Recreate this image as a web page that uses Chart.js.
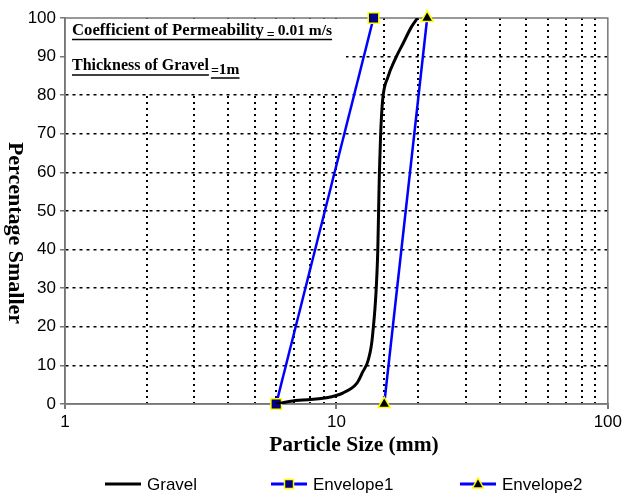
<!DOCTYPE html>
<html>
<head>
<meta charset="utf-8">
<script src="https://cdn.jsdelivr.net/npm/chart.js@4.4.0/dist/chart.umd.min.js"></script>
<style>
  html, body { margin: 0; padding: 0; background: #fff; }
  canvas { display: block; }
</style>
</head>
<body>
<canvas id="gradingChart" width="625" height="493"></canvas>
<script>
// Values (size in mm, percent smaller)
const gravelSize    = [6, 6.9, 9.2, 10.6, 11.9, 12.5, 13.1, 13.6, 14.2, 14.3, 14.4, 14.55, 14.8, 15.5, 16.4, 17.6, 18.9, 19.9];
const gravelPercent = [0, 0.8, 1.6, 2.9, 5.4, 8.3, 11.4, 18, 39.4, 49.7, 59.8, 69.7, 78.7, 84.8, 89.1, 93.4, 97.7, 100];
const envelope1Size    = [6, 13.7];
const envelope1Percent = [0, 100];
const envelope2Size    = [15, 21.6];
const envelope2Percent = [0, 100];

const seriesNames = ['Gravel', 'Envelope1', 'Envelope2'];
const xTickLabels = [1, 10, 100];
const xAxisTitle = 'Particle Size (mm)';
const yAxisTitle = 'Percentage Smaller';

// Note box text (main part, "=" part, value part)
const note1 = ['Coefficient of Permeability', '=', '0.01 m/s'];
const note2 = ['Thickness of Gravel', '=', '1m'];

function toPoints(xs, ys) {
    return xs.map((x, i) => ({ x: x, y: ys[i] }));
}

const serif = '"Liberation Serif", "Times New Roman", serif';
const sans = '"Liberation Sans", Arial, sans-serif';

// Draws the note box, frame, axis titles and legend
const decorPlugin = {
    id: 'decor',
    beforeDatasetsDraw(chart) {
        const ctx = chart.ctx;
        const a = chart.chartArea;
        ctx.save();
        // white note box over the upper-left grid
        ctx.fillStyle = '#fff';
        ctx.fillRect(a.left + 1, a.top + 1, 345 - a.left, 93 - a.top);

        ctx.fillStyle = '#000';
        ctx.strokeStyle = '#000';
        ctx.lineWidth = 1.5;
        ctx.textBaseline = 'alphabetic';
        ctx.textAlign = 'left';

        // line 1
        let x = 72;
        ctx.font = 'bold 16.7px ' + serif;
        ctx.fillText(note1[0], x, 35);
        x += ctx.measureText(note1[0]).width + 3;
        ctx.font = 'bold 14px ' + serif;
        ctx.fillText(note1[1], x, 39);
        x += ctx.measureText(note1[1]).width + 3;
        ctx.font = 'bold 15.5px ' + serif;
        ctx.fillText(note1[2], x, 35);
        x += ctx.measureText(note1[2]).width;
        ctx.beginPath();
        ctx.moveTo(72, 39.5);
        ctx.lineTo(x, 39.5);
        ctx.stroke();

        // line 2
        x = 72;
        ctx.font = 'bold 16px ' + serif;
        ctx.fillText(note2[0], x, 70);
        const w2 = ctx.measureText(note2[0]).width;
        ctx.beginPath();
        ctx.moveTo(72, 75);
        ctx.lineTo(72 + w2, 75);
        ctx.stroke();
        x += w2 + 2;
        const x2 = x;
        ctx.font = 'bold 14px ' + serif;
        ctx.fillText(note2[1], x, 75);
        x += ctx.measureText(note2[1]).width;
        ctx.font = 'bold 15.5px ' + serif;
        ctx.fillText(note2[2], x, 74);
        x += ctx.measureText(note2[2]).width;
        ctx.beginPath();
        ctx.moveTo(x2, 78);
        ctx.lineTo(x, 78);
        ctx.stroke();

        // plot frame
        ctx.strokeStyle = '#777';
        ctx.lineWidth = 1.5;
        ctx.strokeRect(a.left, a.top, a.right - a.left, a.bottom - a.top);
        ctx.restore();
    },
    afterDraw(chart) {
        const ctx = chart.ctx;
        ctx.save();
        ctx.fillStyle = '#000';
        ctx.font = 'bold 21.5px ' + serif;
        ctx.textAlign = 'center';
        ctx.textBaseline = 'middle';
        ctx.fillText(xAxisTitle, 354, 445);

        ctx.save();
        ctx.translate(15, 233);
        ctx.rotate(Math.PI / 2);
        ctx.font = 'bold 22px ' + serif;
        ctx.fillText(yAxisTitle, 0, 0);
        ctx.restore();

        // legend: line with marker, then the name
        const starts = [105, 271, 460];
        const ly = 484;
        ctx.font = '17px ' + sans;
        ctx.textAlign = 'left';
        chart.data.datasets.forEach((ds, i) => {
            const x0 = starts[i];
            ctx.strokeStyle = ds.borderColor;
            ctx.lineWidth = 3;
            ctx.beginPath();
            ctx.moveTo(x0, ly);
            ctx.lineTo(x0 + 36, ly);
            ctx.stroke();
            const cx = x0 + 18;
            if (ds.pointStyle === 'rect') {
                ctx.fillStyle = ds.pointBackgroundColor;
                ctx.strokeStyle = ds.pointBorderColor;
                ctx.lineWidth = 1.5;
                ctx.fillRect(cx - 4.5, ly - 4.5, 9, 9);
                ctx.strokeRect(cx - 4.5, ly - 4.5, 9, 9);
            } else if (ds.pointStyle === 'triangle') {
                ctx.fillStyle = ds.pointBackgroundColor;
                ctx.strokeStyle = ds.pointBorderColor;
                ctx.lineWidth = 1.5;
                ctx.beginPath();
                ctx.moveTo(cx, ly - 6);
                ctx.lineTo(cx + 5.5, ly + 4);
                ctx.lineTo(cx - 5.5, ly + 4);
                ctx.closePath();
                ctx.fill();
                ctx.stroke();
            }
            ctx.fillStyle = '#000';
            ctx.fillText(ds.label, x0 + 42, ly + 1);
        });
        ctx.restore();
    }
};

const ctx = document.getElementById('gradingChart').getContext('2d');
const gradingChart = new Chart(ctx, {
    type: 'line',
    data: {
        datasets: [
            {
                label: seriesNames[0],
                data: toPoints(gravelSize, gravelPercent),
                borderColor: '#000',
                borderWidth: 3,
                pointRadius: 0,
                cubicInterpolationMode: 'monotone',
                fill: false
            },
            {
                label: seriesNames[1],
                data: toPoints(envelope1Size, envelope1Percent),
                borderColor: '#0000ff',
                borderWidth: 2.5,
                pointStyle: 'rect',
                pointRadius: 7.5,
                pointBackgroundColor: '#000080',
                pointBorderColor: '#ffff00',
                pointBorderWidth: 1.5,
                clip: false,
                fill: false
            },
            {
                label: seriesNames[2],
                data: toPoints(envelope2Size, envelope2Percent),
                borderColor: '#0000ff',
                borderWidth: 2.5,
                pointStyle: 'triangle',
                pointRadius: 7,
                pointBackgroundColor: '#000',
                pointBorderColor: '#ffff00',
                pointBorderWidth: 1.5,
                clip: false,
                fill: false
            }
        ]
    },
    options: {
        responsive: false,
        animation: false,
        layout: { padding: { left: 0, right: 17, top: 18, bottom: 0 } },
        plugins: {
            legend: { display: false },
            tooltip: { enabled: false }
        },
        scales: {
            x: {
                type: 'logarithmic',
                min: 1,
                max: 100,
                afterFit: (scale) => { scale.height = 89; },
                grid: {
                    color: (c) => (c.tick && (c.tick.value === 1 || c.tick.value === 100)) ? 'rgba(0,0,0,0)' : '#000',
                    lineWidth: 2,
                    tickLength: 5,
                    tickColor: (c) => (c.tick && xTickLabels.includes(c.tick.value)) ? '#777' : 'rgba(0,0,0,0)'
                },
                border: { display: true, color: '#777', width: 1.5, dash: [2, 4] },
                ticks: {
                    autoSkip: false,
                    maxRotation: 0,
                    padding: 3,
                    color: '#000',
                    font: { family: sans, size: 17 },
                    callback: (v) => xTickLabels.includes(v) ? String(v) : ''
                },
                title: { display: false }
            },
            y: {
                min: 0,
                max: 100,
                afterFit: (scale) => { scale.width = 65; },
                grid: {
                    color: (c) => (c.tick && (c.tick.value === 0 || c.tick.value === 100)) ? 'rgba(0,0,0,0)' : '#000',
                    lineWidth: 1.5,
                    tickLength: 5,
                    tickColor: '#777'
                },
                border: { display: true, color: '#777', width: 1.5, dash: [3, 4] },
                ticks: {
                    stepSize: 10,
                    padding: 4,
                    color: '#000',
                    font: { family: sans, size: 17 }
                },
                title: { display: false }
            }
        }
    },
    plugins: [decorPlugin]
});
</script>
</body>
</html>
